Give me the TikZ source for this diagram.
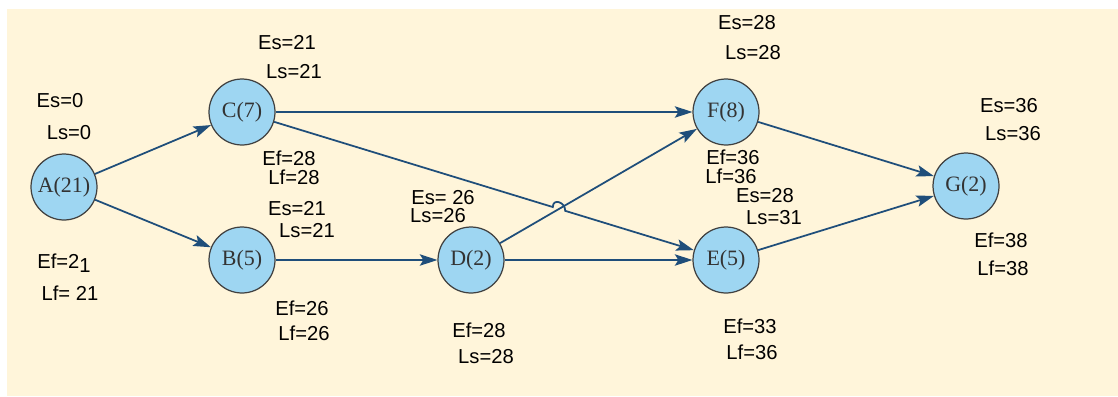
\documentclass[tikz,border=0pt]{standalone}
\usepackage{fontspec}
\setmainfont{Liberation Serif}
\setsansfont{Liberation Sans}
\usepackage{xcolor}
\usetikzlibrary{arrows.meta,calc}
\definecolor{paper}{RGB}{255,245,218}
\definecolor{nodeblue}{RGB}{158,214,242}
\definecolor{edgeblue}{RGB}{31,78,122}
\begin{document}
\begin{tikzpicture}[x=0.02cm, y=-0.02cm,
  >={Stealth[length=10pt, width=6.5pt, inset=2pt]},
  act/.style={circle, draw=black!75, line width=0.7pt, fill=nodeblue, minimum size=1.32cm, inner sep=0pt, font=\fontsize{12.5}{14}\selectfont, text=black!80},
  tm/.style={font=\sffamily\fontsize{11.5}{13}\selectfont, inner sep=0pt},
  link/.style={->, draw=edgeblue, line width=1pt}]
\useasboundingbox (0,0) rectangle (1118,396);
\fill[paper] (7,9) rectangle (1118,396);
% activities
\node[act] (A) at (64,187) {A(21)};
\node[act] (C) at (242,112) {C(7)};
\node[act] (B) at (242,260) {B(5)};
\node[act] (D) at (471,260) {D(2)};
\node[act] (E) at (726,260) {E(5)};
\node[act] (F) at (726,112) {F(8)};
\node[act] (G) at (966,186) {G(2)};
% times
\node[tm] (esA) at (60,101) {Es=0};
\node[tm] (lsA) at (69,133) {Ls=0};
\node[tm] (efA) at (64,263) {Ef=2\raisebox{-2pt}{1}};
\node[tm] (lfA) at (70,293) {Lf= 21};
\node[tm] (esC) at (287,43) {Es=21};
\node[tm] (lsC) at (294,72) {Ls=21};
\node[tm] (efC) at (289,158) {Ef=28};
\node[tm] (lfC) at (294,177) {Lf=28};
\node[tm] (esB) at (297,209) {Es=21};
\node[tm] (lsB) at (307,231) {Ls=21};
\node[tm] (efB) at (302,308) {Ef=26};
\node[tm] (lfB) at (304,333) {Lf=26};
\node[tm] (esD) at (443,198) {Es= 26};
\node[tm] (lsD) at (438,216) {Ls=26};
\node[tm] (efD) at (479,330) {Ef=28};
\node[tm] (lsD2) at (486,357) {Ls=28};
\node[tm] (esF) at (747,23) {Es=28};
\node[tm] (lsF) at (753,53) {Ls=28};
\node[tm] (efF) at (733,157) {Ef=36};
\node[tm] (lfF) at (731,176) {Lf=36};
\node[tm] (esE) at (765,196) {Es=28};
\node[tm] (lsE) at (774,218) {Ls=31};
\node[tm] (efE) at (750,326) {Ef=33};
\node[tm] (lfE) at (752,352) {Lf=36};
\node[tm] (esG) at (1009,106) {Es=36};
\node[tm] (lsG) at (1013,134) {Ls=36};
\node[tm] (efG) at (1001,240) {Ef=38};
\node[tm] (lfG) at (1003,268) {Lf=38};
% arrows
\draw[link] (A) -- (C);
\draw[link] (A) -- (B);
\draw[link] (C) -- (F);
\draw[link] (B) -- (D);
\draw[link] (D) -- (F);
\draw[link] (D) -- (E);
\coordinate (hop) at (intersection of C--E and D--F);
\draw[link] (C) -- ($(hop)!0.13cm!(C)$) .. controls +(0,-9) and +(0,-9) .. ($(hop)!0.13cm!(E)$) -- (E);
\draw[link] (F) -- (G);
\draw[link] (E) -- (G);
\end{tikzpicture}
\end{document}
